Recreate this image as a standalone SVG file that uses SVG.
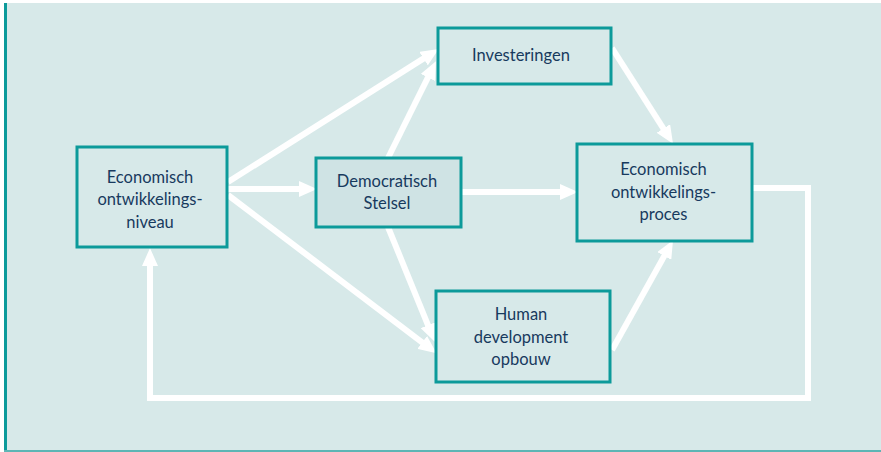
<svg xmlns="http://www.w3.org/2000/svg" width="881" height="452" viewBox="0 0 881 452">
<style>
.box{fill:#d7e9e9;stroke:#0c9a9a;stroke-width:3}
.box2{fill:#cfe3e4;stroke:#0c9a9a;stroke-width:3}
.t{font-family:Lato,"Open Sans",sans-serif;font-size:16.5px;fill:#173a5e;text-anchor:middle}
.c{stroke:#ffffff;stroke-width:6;fill:none}
</style>
<defs>
<marker id="ah" markerUnits="userSpaceOnUse" markerWidth="18" markerHeight="16" viewBox="0 0 18 16" refX="4" refY="8" orient="auto">
<path d="M0,0 L18,8 L0,16 z" fill="#ffffff"/>
</marker>
</defs>
<rect x="0" y="0" width="881" height="452" fill="#ffffff"/>
<rect x="5" y="3" width="876" height="449" fill="#d7e9e9"/>
<rect x="4" y="3" width="3" height="449" fill="#0c9a9a"/>
<rect x="4" y="450" width="877" height="2" fill="#5db5b5"/>
<g id="connectors">
<line class="c" x1="228" y1="182" x2="426.9" y2="56.4" marker-end="url(#ah)"/>
<line class="c" x1="228" y1="189" x2="303" y2="189" marker-end="url(#ah)"/>
<line class="c" x1="228" y1="195" x2="425.4" y2="344.8" marker-end="url(#ah)"/>
<line class="c" x1="388" y1="158" x2="429.7" y2="73.8" marker-end="url(#ah)"/>
<line class="c" x1="388" y1="227" x2="429.5" y2="328.9" marker-end="url(#ah)"/>
<line class="c" x1="461" y1="192" x2="564" y2="192" marker-end="url(#ah)"/>
<line class="c" x1="612" y1="48" x2="665.5" y2="131.9" marker-end="url(#ah)"/>
<line class="c" x1="612" y1="350" x2="666.2" y2="252.5" marker-end="url(#ah)"/>
<polyline class="c" points="752,188 808,188 808,398 150,398 150,262" marker-end="url(#ah)"/>
</g>
<g id="niveau">
<rect class="box" x="77" y="147" width="150" height="100"/>
<text class="t" x="150" y="183">Economisch</text>
<text class="t" x="150" y="205">ontwikkelings-</text>
<text class="t" x="150" y="228">niveau</text>
</g>
<g id="democratisch">
<rect class="box2" x="316" y="158" width="145" height="69"/>
<text class="t" x="387" y="187">Democratisch</text>
<text class="t" x="387" y="209">Stelsel</text>
</g>
<g id="investeringen">
<rect class="box" x="438" y="28" width="173" height="56"/>
<text class="t" x="521" y="61">Investeringen</text>
</g>
<g id="proces">
<rect class="box" x="577" y="144" width="175" height="97"/>
<text class="t" x="663.5" y="175">Economisch</text>
<text class="t" x="663.5" y="198">ontwikkelings-</text>
<text class="t" x="663.5" y="220">proces</text>
</g>
<g id="human">
<rect class="box" x="436" y="291" width="174" height="91"/>
<text class="t" x="521" y="320">Human</text>
<text class="t" x="521" y="343">development</text>
<text class="t" x="521" y="365">opbouw</text>
</g>
</svg>
